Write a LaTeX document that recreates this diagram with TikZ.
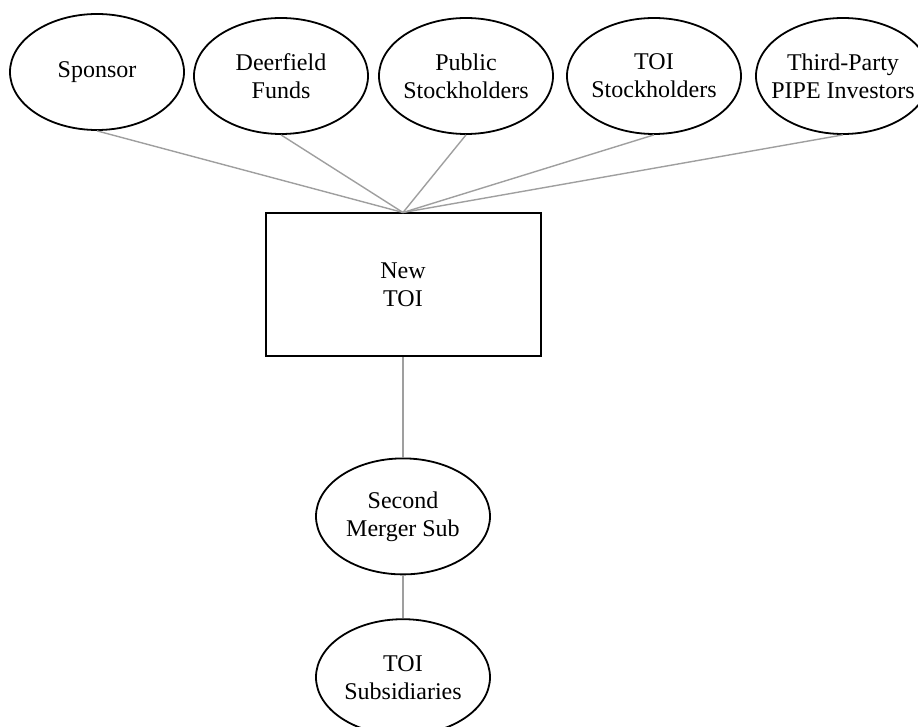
\documentclass[tikz,border=0pt]{standalone}
\usepackage{fontspec}
\setmainfont{Liberation Serif}
\usetikzlibrary{positioning, shapes.geometric}
\tikzstyle{Holder} = [
draw, ellipse, line width=0.9pt,
minimum width=87pt, minimum height=58pt,
inner sep=0pt, inner xsep=-12pt, align=center]
\tikzstyle{Entity} = [
draw, rectangle, line width=1pt,
minimum width=137.5pt, minimum height=71.5pt, align=center]
\tikzstyle{Link} = [draw=gray!75, line width=0.7pt]

\begin{document}
\begin{tikzpicture}[font=\fontsize{12}{14}\selectfont]
    \useasboundingbox (0,0) rectangle (459pt,-363.5pt);
    \node[Holder] (sponsor) at (48.5pt,-36pt) {Sponsor};
    \node[Holder] (deerfield) at (140.5pt,-38pt) {Deerfield\\Funds};
    \node[Holder] (public) at (233pt,-38pt) {Public\\Stockholders};
    \node[Holder] (toiholders) at (327pt,-38pt) {TOI\\Stockholders};
    \node[Holder] (pipe) at (421.5pt,-38pt) {Third-Party\\PIPE Investors};

    \node[Entity] (newtoi) at (201.5pt,-142.5pt) {New\\TOI};
    \node[Holder, below=50pt of newtoi] (merger) {Second\\Merger Sub};
    \node[Holder, below=21.5pt of merger] (subs) {TOI\\Subsidiaries};

    \draw[Link] (sponsor.south) -- (newtoi.north);
    \draw[Link] (deerfield.south) -- (newtoi.north);
    \draw[Link] (public.south) -- (newtoi.north);
    \draw[Link] (toiholders.south) -- (newtoi.north);
    \draw[Link] (pipe.south) -- (newtoi.north);
    \draw[Link] (newtoi.south) -- (merger.north);
    \draw[Link] (merger.south) -- (subs.north);
\end{tikzpicture}
\end{document}
